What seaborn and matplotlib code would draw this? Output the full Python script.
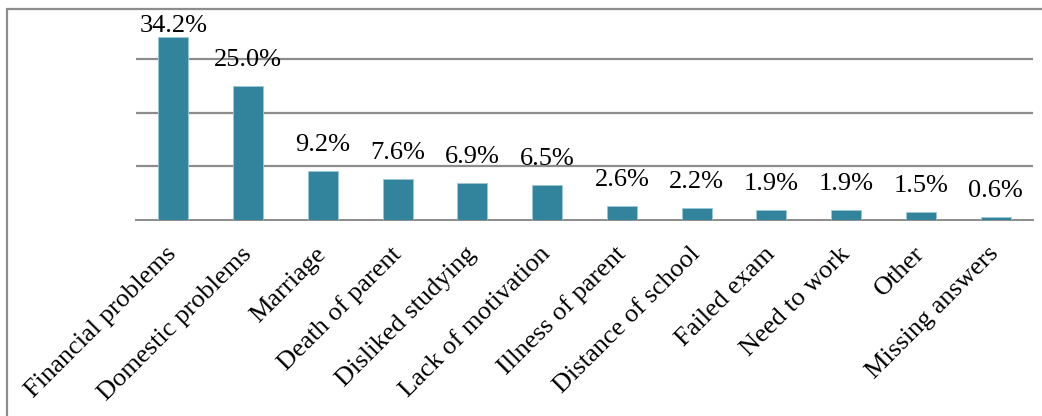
import numpy as np
import pandas as pd
import matplotlib.pyplot as plt
import seaborn as sns
from matplotlib.patches import Rectangle

reasons = ['Financial problems', 'Domestic problems', 'Marriage', 'Death of parent',
           'Disliked studying', 'Lack of motivation', 'Illness of parent',
           'Distance of school', 'Failed exam', 'Need to work', 'Other', 'Missing answers']
percent = [34.2, 25.0, 9.2, 7.6, 6.9, 6.5, 2.6, 2.2, 1.9, 1.9, 1.5, 0.6]

df = pd.DataFrame({'reason': reasons, 'percent': percent})

sns.set_theme(style='white')
plt.rcParams['font.family'] = ['Liberation Serif', 'DejaVu Serif']

fig = plt.figure(figsize=(10.42, 4.16), dpi=100)
ax = fig.add_axes([0.1305, 0.4712, 0.8609, 0.5144])

sns.barplot(data=df, x='reason', y='percent', color='#31849B', saturation=1,
            width=0.4, edgecolor='#9cc9d6', linewidth=0.6, ax=ax, zorder=3)

ax.set_ylim(0, 40)
ax.set_xlim(-0.5, len(reasons) - 0.5)
ax.set_yticks([10, 20, 30])
ax.yaxis.grid(True, color='#8c8c8c', linewidth=1.6, zorder=0)
ax.tick_params(axis='y', left=False, labelleft=False)
for s in ['top', 'right', 'left']:
    ax.spines[s].set_visible(False)
ax.spines['bottom'].set_color('#8c8c8c')
ax.spines['bottom'].set_linewidth(1.4)
ax.set_xlabel('')
ax.set_ylabel('')

ax.set_xticks(np.arange(-0.5, len(reasons), 1.0), minor=True)
ax.tick_params(axis='x', which='minor', length=6, width=1.2, color='#8c8c8c', direction='out')
ax.tick_params(axis='x', which='major', length=0, pad=22)
ax.set_xticks(range(len(reasons)))
ax.set_xticklabels(reasons, rotation=45, ha='right', va='center',
                   rotation_mode='anchor', fontsize=19, color='black')

# value labels above bars
for i, v in enumerate(percent):
    y = min(v + 2.8, 34.2)
    ax.text(i, y, f'{v:.1f}%', ha='center', va='bottom', fontsize=19, color='black', zorder=5)

# outer chart border (cut off at right and bottom as in the source)
fig.patches.append(Rectangle((7 / 1042, -0.05), 1.05, 1 - 9 / 416 + 0.05,
                             transform=fig.transFigure, fill=False,
                             edgecolor='#8c8c8c', linewidth=1.6))

fig.savefig('out.png', dpi=100)
